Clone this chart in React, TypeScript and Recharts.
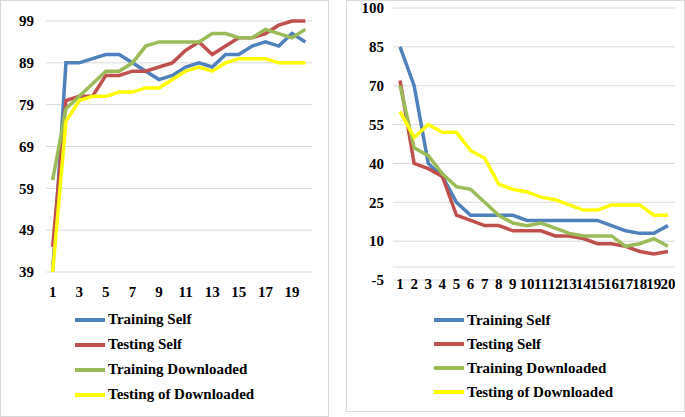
import React from 'react';
import {
  LineChart,
  Line,
  XAxis,
  YAxis,
  CartesianGrid,
  Legend,
  ReferenceLine
} from 'recharts';

// epochs 1..20
const epochs = Array.from({ length: 20 }, (_, i) => String(i + 1));

// left panel: accuracy
const accTrainingSelf = [39, 89, 89, 90, 91, 91, 89, 87, 85, 86, 88, 89, 88, 91, 91, 93, 94, 93, 96, 94];
const accTestingSelf = [45, 80, 81, 81, 86, 86, 87, 87, 88, 89, 92, 94, 91, 93, 95, 95, 96, 98, 99, 99];
const accTrainingDownloaded = [61, 78, 81, 84, 87, 87, 89, 93, 94, 94, 94, 94, 96, 96, 95, 95, 97, 96, 95, 97];
const accTestingDownloaded = [39, 75, 80, 81, 81, 82, 82, 83, 83, 85, 87, 88, 87, 89, 90, 90, 90, 89, 89, 89];
const accTicks = [39, 49, 59, 69, 79, 89, 99];

// right panel: loss
const lossTrainingSelf = [85, 70, 40, 35, 25, 20, 20, 20, 20, 18, 18, 18, 18, 18, 18, 16, 14, 13, 13, 16];
const lossTestingSelf = [72, 40, 38, 35, 20, 18, 16, 16, 14, 14, 14, 12, 12, 11, 9, 9, 8, 6, 5, 6];
const lossTrainingDownloaded = [70, 46, 43, 36, 31, 30, 25, 20, 17, 16, 17, 15, 13, 12, 12, 12, 8, 9, 11, 8];
const lossTestingDownloaded = [60, 50, 55, 52, 52, 45, 42, 32, 30, 29, 27, 26, 24, 22, 22, 24, 24, 24, 20, 20];
const lossTicks = [-5, 10, 25, 40, 55, 70, 85, 100];

const seriesNames = ['Training Self', 'Testing Self', 'Training Downloaded', 'Testing of Downloaded'];
const seriesColors = ['#4F81BD', '#C0504D', '#9BBB59', '#FFFF00'];

const FONT = '"Liberation Serif", "Times New Roman", serif';
const GRID = '#d9d9d9';

const accData = epochs.map((e, i) => ({
  epoch: e,
  s0: accTrainingSelf[i],
  s1: accTestingSelf[i],
  s2: accTrainingDownloaded[i],
  s3: accTestingDownloaded[i]
}));

const lossData = epochs.map((e, i) => ({
  epoch: e,
  s0: lossTrainingSelf[i],
  s1: lossTestingSelf[i],
  s2: lossTrainingDownloaded[i],
  s3: lossTestingDownloaded[i]
}));

const tickStyle = { fill: '#000', fontSize: 15, fontWeight: 'bold' as const, fontFamily: FONT };

const makeLegend = (rowHeight: number) => () => (
  <div style={{ fontFamily: FONT, fontWeight: 'bold', fontSize: 15, color: '#000' }}>
    {seriesNames.map((name, i) => (
      <div key={name} style={{ height: rowHeight, display: 'flex', alignItems: 'center', whiteSpace: 'nowrap' }}>
        <span style={{ display: 'inline-block', width: 30, height: 4, background: seriesColors[i], marginRight: 3 }} />
        <span>{name}</span>
      </div>
    ))}
  </div>
);

const boxStyle: React.CSSProperties = {
  position: 'absolute',
  top: 0,
  border: `1px solid ${GRID}`,
  background: '#fff'
};

const App: React.FC = () => {
  return (
    <div style={{ position: 'absolute', left: 0, top: 0, width: 685, height: 417, background: '#fff' }}>
      {/* left panel */}
      <div style={{ ...boxStyle, left: 0, width: 327, height: 415 }}>
        <LineChart width={327} height={415} data={accData} margin={{ top: 20, right: 16, left: 0, bottom: 114 }}>
          <CartesianGrid vertical={false} stroke={GRID} />
          <XAxis
            dataKey="epoch"
            interval={1}
            axisLine={false}
            tickLine={false}
            tickSize={0}
            tickMargin={14}
            height={30}
            padding={{ left: 6.65, right: 6.65 }}
            tick={tickStyle}
          />
          <YAxis
            domain={[39, 99]}
            ticks={accTicks}
            interval={0}
            axisLine={false}
            tickLine={false}
            tickSize={0}
            tickMargin={12}
            width={45}
            tick={tickStyle}
          />
          <Legend
            layout="vertical"
            align="center"
            verticalAlign="middle"
            content={makeLegend(25)}
            wrapperStyle={{ left: 74, top: 306, width: 250, height: 100 }}
          />
          {seriesNames.map((name, i) => (
            <Line
              key={name}
              type="linear"
              dataKey={`s${i}`}
              name={name}
              stroke={seriesColors[i]}
              strokeWidth={3.5}
              dot={false}
              isAnimationActive={false}
            />
          ))}
        </LineChart>
      </div>

      {/* right panel */}
      <div style={{ ...boxStyle, left: 346, width: 337, height: 410 }}>
        <LineChart width={337} height={410} data={lossData} margin={{ top: 7, right: 9, left: 0, bottom: 111 }}>
          <CartesianGrid vertical={false} stroke={GRID} />
          <ReferenceLine y={0} stroke={GRID} />
          <XAxis
            dataKey="epoch"
            interval={0}
            axisLine={false}
            tickLine={false}
            tickSize={0}
            tickMargin={-2}
            height={20}
            padding={{ left: 7.05, right: 7.05 }}
            tick={tickStyle}
          />
          <YAxis
            domain={[-5, 100]}
            ticks={lossTicks}
            interval={0}
            axisLine={false}
            tickLine={false}
            tickSize={0}
            tickMargin={9}
            width={46}
            tick={tickStyle}
          />
          <Legend
            layout="vertical"
            align="center"
            verticalAlign="middle"
            content={makeLegend(24)}
            wrapperStyle={{ left: 87, top: 307, width: 240, height: 100 }}
          />
          {seriesNames.map((name, i) => (
            <Line
              key={name}
              type="linear"
              dataKey={`s${i}`}
              name={name}
              stroke={seriesColors[i]}
              strokeWidth={3.5}
              dot={false}
              isAnimationActive={false}
            />
          ))}
        </LineChart>
      </div>
    </div>
  );
};

export default App;
